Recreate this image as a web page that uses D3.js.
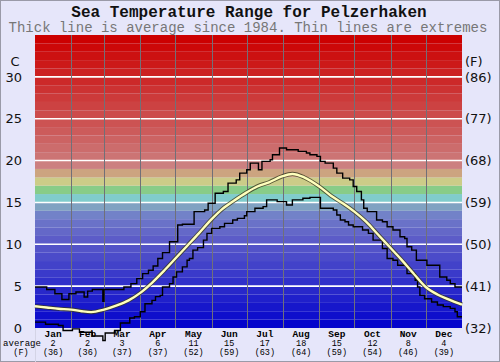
<!DOCTYPE html>
<html>
<head>
<meta charset="utf-8">
<script src="https://cdn.jsdelivr.net/npm/d3@7"></script>
<style>
  body { margin: 0; background: #e6e6fa; }
  svg { display: block; }
</style>
</head>
<body>
<div id="chart"></div>
<script>
// month layout and labels
const months = ["Jan", "Feb", "Mar", "Apr", "May", "Jun", "Jul", "Aug", "Sep", "Oct", "Nov", "Dec"];
const monthStart = [0, 31, 59, 90, 120, 151, 181, 212, 243, 273, 304, 334, 365];
const avgC = [2, 2, 3, 6, 11, 15, 17, 18, 15, 12, 8, 4];
const avgF = [36, 36, 37, 37, 52, 59, 63, 64, 59, 54, 46, 39];
const ticksC = [0, 5, 10, 15, 20, 25, 30];
const ticksF = [32, 41, 50, 59, 68, 77, 86];

// average since 1984, day of year -> deg C
const avgDays = [0, 10, 20, 31, 40, 48, 59, 70, 80, 90, 100, 110, 120, 130, 140, 151, 160, 170, 181, 190,
                 200, 211, 220, 230, 243, 253, 263, 273, 283, 293, 303, 313, 323, 334, 344, 354, 365];
const avgVals = [2.6, 2.45, 2.3, 2.2, 2.0, 1.9, 2.2, 2.7, 3.3, 4.2, 5.4, 6.8, 8.3, 9.8, 11.3, 13.0, 14.2, 15.2, 16.2, 16.9,
                 17.4, 18.1, 18.4, 18.0, 16.9, 15.8, 14.9, 13.9, 12.7, 11.2, 9.7, 8.2, 6.6, 4.9, 4.0, 3.4, 2.8];

// extremes, stepped: [day where value starts, deg C]
const maxSteps = [[0, 4.9], [10, 4.6], [17, 4.1], [23, 3.4], [29, 4.1], [35, 4.3], [42, 3.7], [45, 4.4], [49, 4.6],
  [58, 3.2], [59, 4.6], [76, 4.9], [82, 5.3], [87, 5.9], [92, 6.5], [97, 6.9], [101, 7.4], [105, 8.3], [109, 9.0],
  [115, 10.3], [122, 12.3], [126, 12.4], [136, 13.9], [145, 14.1], [148, 14.9], [154, 16.1], [161, 16.3], [165, 17.3],
  [172, 17.7], [175, 18.5], [181, 18.9], [184, 19.7], [191, 18.9], [194, 19.9], [201, 20.1], [203, 20.7], [209, 21.5],
  [215, 21.3], [225, 21.1], [232, 20.9], [235, 20.7], [241, 20.5], [244, 19.9], [248, 19.7], [255, 19.1], [258, 18.5],
  [263, 17.9], [269, 17.7], [272, 16.9], [275, 16.3], [279, 15.3], [281, 14.3], [284, 13.9], [292, 12.9], [297, 12.7],
  [301, 12.1], [306, 11.7], [312, 10.9], [316, 10.7], [318, 9.7], [322, 9.3], [326, 8.1], [335, 7.5], [346, 6.1],
  [352, 5.7], [355, 5.3], [359, 4.9]];
const minSteps = [[0, 0.7], [9, 0.45], [20, 0.3], [24, -0.3], [32, -0.1], [38, -0.5], [49, -0.95], [58, -1.5],
  [60, -0.6], [68, -0.3], [73, 0.6], [81, 1.2], [85, 1.35], [90, 1.95], [94, 2.9], [100, 3.3], [103, 3.75], [107, 3.9],
  [109, 4.9], [115, 5.3], [118, 6.1], [121, 6.7], [126, 7.3], [130, 8.1], [132, 8.3], [135, 9.3], [139, 9.6],
  [144, 10.5], [147, 11.3], [151, 11.9], [158, 12.1], [162, 12.5], [169, 12.9], [173, 13.1], [179, 13.4], [181, 13.9],
  [188, 14.3], [195, 14.5], [198, 15.3], [207, 15.1], [215, 14.7], [220, 15.3], [229, 15.5], [235, 15.6], [244, 14.3],
  [255, 14.1], [258, 13.5], [261, 12.9], [265, 12.7], [268, 12.3], [272, 12.1], [280, 11.7], [285, 11.3], [289, 10.5],
  [297, 9.5], [301, 8.3], [306, 8.1], [310, 7.5], [318, 6.5], [325, 5.7], [327, 4.9], [329, 3.9], [333, 3.5],
  [339, 3.1], [344, 2.75], [349, 2.55], [355, 2.35], [359, 1.95], [361, 1.35]];

const W = 500, H = 362;
const svg = d3.select("#chart").append("svg").attr("width", W).attr("height", H);
const x = d3.scaleLinear().domain([0, 365]).range([35, 462]);
const y = d3.scaleLinear().domain([0, 35]).range([328, 35]);

svg.append("rect").attr("x", 0.5).attr("y", 0.5).attr("width", W - 1).attr("height", H - 1)
  .attr("fill", "#e6e6fa").attr("stroke", "#9a9aa8");

// colour bands, one per degree
function bandColor(t) {
  if (t <= 10) return d3.interpolateRgb("#0606cc", "#5c5cc8")(t / 10);
  const mid = {11: "#6468c8", 12: "#6a72c8", 13: "#7282c8", 14: "#80a2c2",
               15: "#80cccc", 16: "#88cc88", 17: "#cccc88", 18: "#cca480", 19: "#cc8080"};
  if (mid[t]) return mid[t];
  return d3.interpolateRgb("#cc7474", "#cc0000")((t - 20) / 14);
}
svg.append("g").selectAll("rect").data(d3.range(0, 35)).join("rect")
  .attr("x", x(0)).attr("width", x(365) - x(0))
  .attr("y", d => y(d + 1)).attr("height", d => y(d) - y(d + 1))
  .attr("fill", d => bandColor(d));

// horizontal white grid
svg.append("g").selectAll("line").data(ticksC.filter(d => d > 0)).join("line")
  .attr("x1", x(0)).attr("x2", x(365)).attr("y1", d => y(d)).attr("y2", d => y(d))
  .attr("stroke", "#fff").attr("stroke-width", 1.6);

// month separators
svg.append("g").selectAll("line").data(monthStart.slice(1, 12)).join("line")
  .attr("x1", d => Math.round(x(d)) + 0.5).attr("x2", d => Math.round(x(d)) + 0.5)
  .attr("y1", y(35)).attr("y2", y(0))
  .attr("stroke", "#707078").attr("stroke-width", 1);
svg.append("line").attr("x1", x(0) + 0.5).attr("x2", x(0) + 0.5).attr("y1", y(0)).attr("y2", H)
  .attr("stroke", "#d4d4e6");

// extremes
const stepLine = d3.line().x(d => x(d[0])).y(d => y(d[1])).curve(d3.curveStepAfter);
[maxSteps, minSteps].forEach(s => {
  const pts = s.concat([[365, s[s.length - 1][1]]]);
  svg.append("path").datum(pts).attr("d", stepLine)
    .attr("fill", "none").attr("stroke", "#000").attr("stroke-width", 1.4);
});

// average
const avgPts = avgDays.map((d, i) => [d, avgVals[i]]);
const avgLine = d3.line().x(d => x(d[0])).y(d => y(d[1])).curve(d3.curveMonotoneX);
svg.append("path").datum(avgPts).attr("d", avgLine)
  .attr("fill", "none").attr("stroke", "#3a3a20").attr("stroke-width", 4.2).attr("stroke-opacity", 0.8);
svg.append("path").datum(avgPts).attr("d", avgLine)
  .attr("fill", "none").attr("stroke", "#ffffbc").attr("stroke-width", 2.4);

// y axes
const leftAxis = svg.append("g").attr("transform", `translate(${x(0)},0)`)
  .call(d3.axisLeft(y).tickValues(ticksC).tickSize(0).tickPadding(13));
const rightAxis = svg.append("g").attr("transform", `translate(${x(365)},0)`)
  .call(d3.axisRight(y).tickValues(ticksC).tickSize(0).tickPadding(3).tickFormat((d, i) => `(${ticksF[i]})`));
[leftAxis, rightAxis].forEach(a => {
  a.select(".domain").remove();
  a.selectAll("text").attr("font-family", "DejaVu Sans").attr("font-size", 13).attr("fill", "#111");
});
svg.append("text").attr("x", 15).attr("y", 66).attr("text-anchor", "middle")
  .attr("font-family", "DejaVu Sans").attr("font-size", 13).attr("fill", "#111").text("C");
svg.append("text").attr("x", 465).attr("y", 66)
  .attr("font-family", "DejaVu Sans").attr("font-size", 13).attr("fill", "#111").text("(F)");

// titles
svg.append("text").attr("x", 249).attr("y", 16.5).attr("text-anchor", "middle")
  .attr("font-family", "Liberation Mono").attr("font-weight", "bold").attr("font-size", 16)
  .attr("fill", "#111").text("Sea Temperature Range for Pelzerhaken");
svg.append("text").attr("x", 248).attr("y", 32).attr("text-anchor", "middle")
  .attr("font-family", "Liberation Mono").attr("font-size", 14)
  .attr("fill", "#777").text("Thick line is average since 1984. Thin lines are extremes");

// month labels and averages
const mid = months.map((m, i) => (monthStart[i] + monthStart[i + 1]) / 2);
const lab = svg.append("g").attr("font-family", "Liberation Mono").attr("fill", "#000").attr("text-anchor", "middle");
lab.selectAll(".m").data(months).join("text").attr("class", "m")
  .attr("x", (d, i) => x(mid[i])).attr("y", 336.5)
  .attr("font-weight", "bold").attr("font-size", 9.5).text(d => d);
lab.selectAll(".c").data(avgC).join("text").attr("class", "c")
  .attr("x", (d, i) => x(mid[i])).attr("y", 346).attr("font-size", 8.5).text(d => d);
lab.selectAll(".f").data(avgF).join("text").attr("class", "f")
  .attr("x", (d, i) => x(mid[i])).attr("y", 355).attr("font-size", 8.5).text(d => `(${d})`);
lab.append("text").attr("x", 22).attr("y", 346).attr("font-size", 9).text("average");
lab.append("text").attr("x", 21).attr("y", 355).attr("font-size", 8.5).text("(F)");
</script>
</body>
</html>
